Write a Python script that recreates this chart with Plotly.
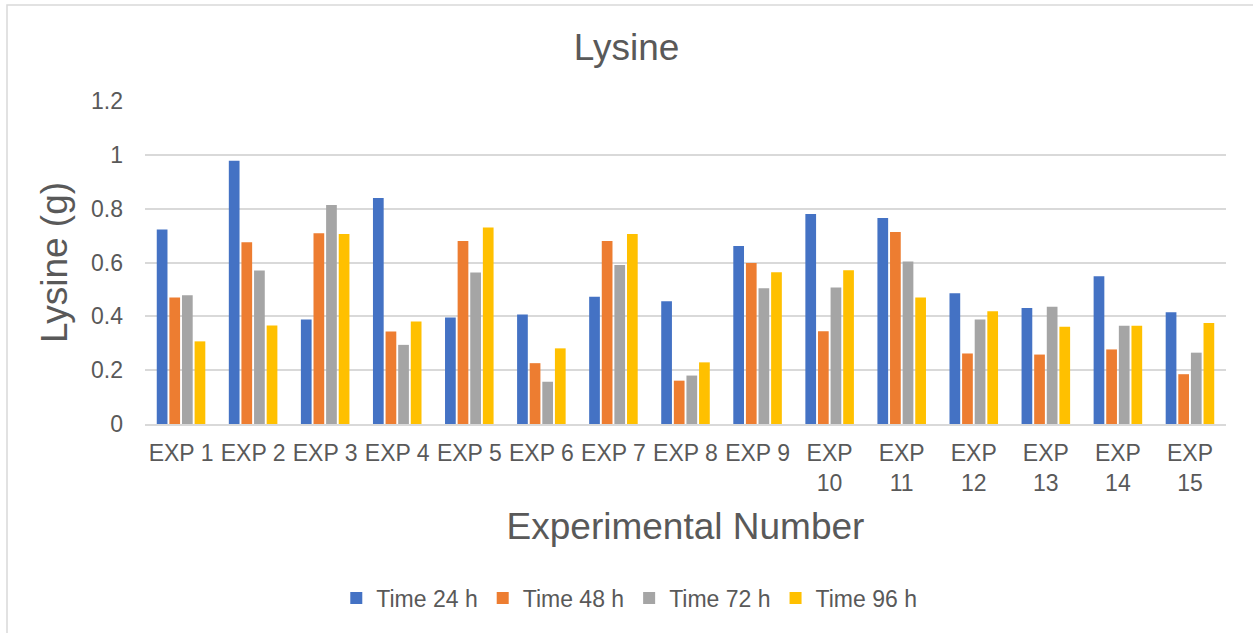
import plotly.graph_objects as go

categories = ["EXP 1", "EXP 2", "EXP 3", "EXP 4", "EXP 5", "EXP 6", "EXP 7", "EXP 8",
              "EXP 9", "EXP<br>10", "EXP<br>11", "EXP<br>12", "EXP<br>13", "EXP<br>14", "EXP<br>15"]

time_24 = [0.723, 0.978, 0.388, 0.840, 0.396, 0.407, 0.473, 0.456, 0.661, 0.780, 0.765, 0.486, 0.431, 0.549, 0.415]
time_48 = [0.470, 0.675, 0.709, 0.344, 0.680, 0.226, 0.680, 0.161, 0.598, 0.345, 0.713, 0.262, 0.258, 0.277, 0.185]
time_72 = [0.478, 0.570, 0.814, 0.294, 0.563, 0.157, 0.591, 0.180, 0.504, 0.507, 0.604, 0.388, 0.436, 0.365, 0.265]
time_96 = [0.307, 0.366, 0.706, 0.381, 0.730, 0.281, 0.706, 0.229, 0.564, 0.571, 0.470, 0.419, 0.361, 0.365, 0.375]

series_names = ["Time 24 h", "Time 48 h", "Time 72 h", "Time 96 h"]
series_values = [time_24, time_48, time_72, time_96]
colors = ["#4472C4", "#ED7D31", "#A5A5A5", "#FFC000"]

y_ticks = [0, 0.2, 0.4, 0.6, 0.8, 1.0, 1.2]
y_tick_text = ["0", "0.2", "0.4", "0.6", "0.8", "1", "1.2"]

FONT = "Liberation Sans, Arial, sans-serif"
TXT = "#595959"

fig = go.Figure()
for name, vals, col in zip(series_names, series_values, colors):
    fig.add_trace(go.Bar(x=categories, y=vals, name=name,
                         marker=dict(color=col, line=dict(width=0))))

fig.update_layout(
    width=1253, height=633,
    margin=dict(l=145, r=27, t=101, b=209),
    paper_bgcolor="white", plot_bgcolor="white",
    font=dict(family=FONT, color=TXT),
    barmode="group", bargap=0.3, bargroupgap=0.15,
    title=dict(text="Lysine", x=0.5, xref="container", xanchor="center",
               y=1 - 47 / 633, yref="container", yanchor="middle",
               font=dict(size=37, color=TXT, family=FONT)),
    showlegend=True,
    legend=dict(orientation="h", x=0.448, xanchor="center", y=-0.539, yanchor="middle",
                font=dict(size=23, color=TXT, family=FONT), traceorder="normal",
                itemwidth=30, itemsizing="constant"),
    xaxis=dict(showgrid=False, showline=True, linecolor="#D9D9D9", linewidth=1.5,
               ticks="", tickfont=dict(size=23, color=TXT), ticklabelstandoff=8,
               title=dict(text="Experimental Number", font=dict(size=37, color=TXT), standoff=18),
               tickangle=0),
    yaxis=dict(range=[0, 1.2], tickvals=y_ticks, ticktext=y_tick_text,
               showgrid=True, gridcolor="#D9D9D9", gridwidth=1.5,
               zeroline=False, showline=False, ticks="",
               tickfont=dict(size=23, color=TXT), ticklabelstandoff=21,
               title=dict(text="Lysine (g)", font=dict(size=37, color=TXT), standoff=12)),
    shapes=[dict(type="rect", xref="paper", yref="paper",
                 x0=(7 - 145) / 1081, x1=1.1, y0=-0.8, y1=(424 - 5) / 323,
                 line=dict(color="#D9D9D9", width=1.5), fillcolor="rgba(0,0,0,0)", layer="below")],
)

fig.write_html("out.html")
